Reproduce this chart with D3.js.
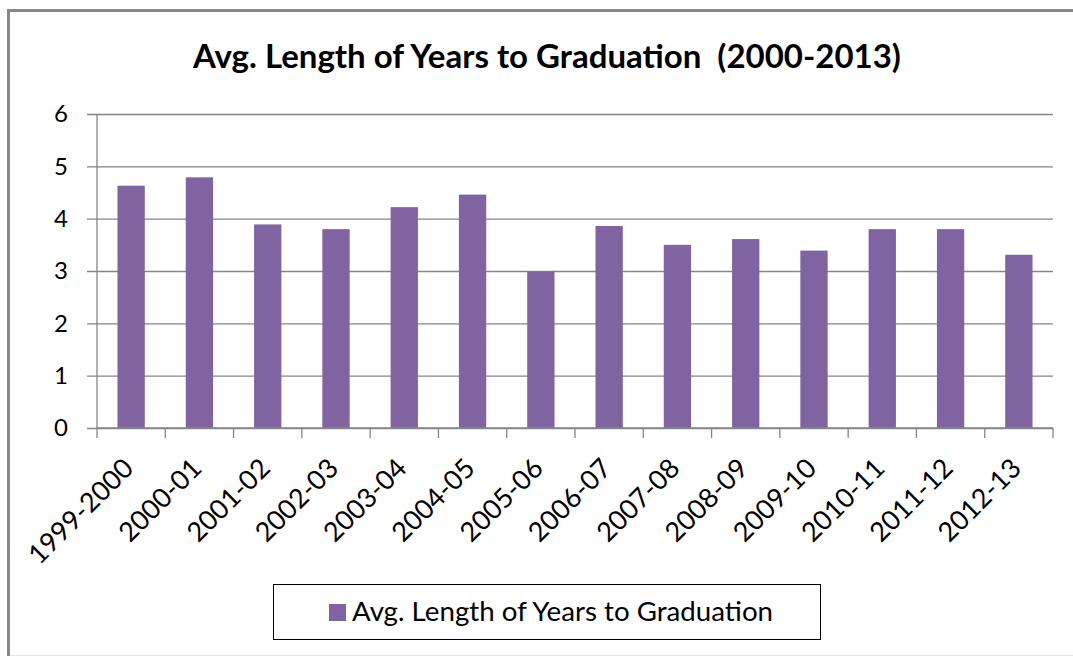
<!DOCTYPE html>
<html lang="en">
<head>
    <meta charset="UTF-8">
    <title>Avg. Length of Years to Graduation</title>
    <script src="https://d3js.org/d3.v7.min.js"></script>
    <style>
        body { margin: 0; background: #fff; }
        text { font-family: Lato, "Open Sans", sans-serif; fill: #000; }
    </style>
</head>
<body>
<svg width="1073" height="656"></svg>
<script>
    var years = ["1999-2000", "2000-01", "2001-02", "2002-03", "2003-04", "2004-05", "2005-06",
                 "2006-07", "2007-08", "2008-09", "2009-10", "2010-11", "2011-12", "2012-13"];
    var avgYears = [4.63, 4.79, 3.89, 3.80, 4.22, 4.46, 2.99, 3.86, 3.50, 3.61, 3.39, 3.80, 3.80, 3.31];
    var yTicks = [0, 1, 2, 3, 4, 5, 6];
    var seriesName = "Avg. Length of Years to Graduation";
    var chartTitle = "Avg. Length of Years to Graduation  (2000-2013)";

    var svg = d3.select("svg"),
        margin = {top: 114, left: 97},
        width = 1053 - margin.left,
        height = 428 - margin.top,
        barColor = "#8064a2",
        axisColor = "#868686";

    // chart frame: left + top edges, faint bottom
    svg.append("line").attr("x1", 8.5).attr("x2", 8.5).attr("y1", 9).attr("y2", 656)
        .attr("stroke", "#888").attr("stroke-width", 3);
    svg.append("line").attr("x1", 7).attr("x2", 1073).attr("y1", 10.5).attr("y2", 10.5)
        .attr("stroke", "#888").attr("stroke-width", 3);
    svg.append("line").attr("x1", 10).attr("x2", 1073).attr("y1", 655.5).attr("y2", 655.5)
        .attr("stroke", "#e6e6e6").attr("stroke-width", 1);

    svg.append("text")
        .attr("x", 547).attr("y", 68)
        .attr("text-anchor", "middle")
        .style("font-size", "33px").style("font-weight", "bold")
        .style("white-space", "pre")
        .text(chartTitle);

    var g = svg.append("g")
        .attr("transform", "translate(" + margin.left + "," + margin.top + ")");

    var x = d3.scaleBand().domain(years).range([0, width]).paddingInner(0.6).paddingOuter(0.3),
        xTick = d3.scaleLinear().domain([0, years.length]).range([0, width]),
        y = d3.scaleLinear().domain([0, 6]).range([height, 0]);

    // gridlines + y axis
    var yAxis = g.append("g")
        .call(d3.axisLeft(y).tickValues(yTicks).tickFormat(d3.format("d"))
            .tickSize(-width).tickPadding(29).tickSizeOuter(0));
    yAxis.select(".domain").remove();
    yAxis.selectAll(".tick line").attr("x1", -10).attr("stroke", axisColor).attr("stroke-width", 1.3);
    yAxis.selectAll(".tick text").style("font-size", "24px").attr("fill", "#000");

    g.append("line")
        .attr("x1", 0).attr("x2", 0).attr("y1", 0).attr("y2", height)
        .attr("stroke", axisColor).attr("stroke-width", 1.3);

    g.selectAll(".bar")
        .data(avgYears)
        .enter().append("rect")
        .attr("class", "bar")
        .attr("x", (d, i) => x(years[i]))
        .attr("y", d => y(d))
        .attr("width", x.bandwidth())
        .attr("height", d => height - y(d))
        .attr("fill", barColor);

    // x axis: ticks between categories
    var xAxis = g.append("g")
        .attr("transform", "translate(0," + height + ")");
    xAxis.append("line")
        .attr("x1", 0).attr("x2", width)
        .attr("stroke", axisColor).attr("stroke-width", 1.3);
    xAxis.selectAll(".xt")
        .data(d3.range(years.length + 1))
        .enter().append("line")
        .attr("x1", d => xTick(d)).attr("x2", d => xTick(d))
        .attr("y1", 0).attr("y2", 10)
        .attr("stroke", axisColor).attr("stroke-width", 1.3);
    xAxis.selectAll(".xl")
        .data(years)
        .enter().append("text")
        .attr("transform", d => "translate(" + (x(d) + x.bandwidth() / 2 + 4) + ",42) rotate(-45)")
        .attr("text-anchor", "end")
        .style("font-size", "27px")
        .text(d => d);

    // legend
    var lg = svg.append("g");
    lg.append("rect")
        .attr("x", 273.5).attr("y", 584.5).attr("width", 547).attr("height", 55)
        .attr("fill", "#fff").attr("stroke", "#000").attr("stroke-width", 1);
    lg.append("rect")
        .attr("x", 329).attr("y", 604).attr("width", 17).attr("height", 17)
        .attr("fill", barColor);
    lg.append("text")
        .attr("x", 352).attr("y", 621)
        .style("font-size", "27.7px")
        .text(seriesName);
</script>
</body>
</html>
